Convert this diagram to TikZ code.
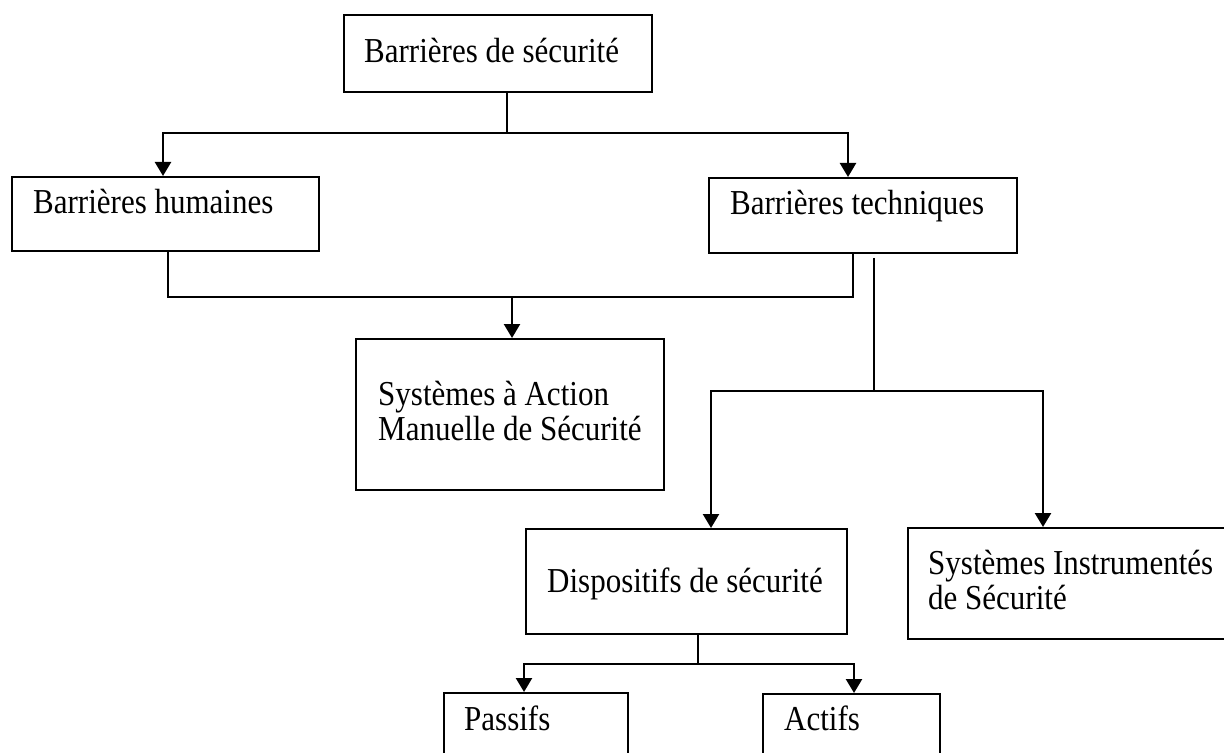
\documentclass[tikz,border=0pt]{standalone}
\usepackage{fontspec}
\setmainfont{Liberation Serif}[FakeStretch=0.886]
\usetikzlibrary{arrows.meta}

\begin{document}
\begin{tikzpicture}[x=0.5pt, y=-0.5pt, line width=1.2pt,
    >={Triangle[length=7pt,width=8pt]},
    box/.style={rectangle, draw, line width=1pt, inner sep=0pt},
    txt/.style={anchor=base west, inner sep=0pt, align=left,
      font=\fontsize{17.5}{17.5}\selectfont}]
  \useasboundingbox (0,0) rectangle (1224,753);
  % boxes
  \node[box, minimum width=154pt, minimum height=38.5pt] (secu) at (498,53.5) {};
  \node[box, minimum width=153.5pt, minimum height=37pt] (hum) at (165.5,214) {};
  \node[box, minimum width=154pt, minimum height=37.5pt] (tech) at (863,215.5) {};
  \node[box, minimum width=154pt, minimum height=75.5pt] (sams) at (510,414.5) {};
  \node[box, minimum width=160.5pt, minimum height=52.5pt] (disp) at (686.5,581.5) {};
  \node[box, minimum width=166pt, minimum height=55.5pt] (sis) at (1074,583.5) {};
  \node[box, minimum width=92pt, minimum height=38.5pt] (pas) at (536,731.5) {};
  \node[box, minimum width=88.5pt, minimum height=38pt] (act) at (851.5,732) {};
  % labels (base of the last line)
  \node[txt] (secut) at (363,63) {Barrières de sécurité};
  \node[txt] (humt) at (32,214) {Barrières humaines};
  \node[txt] (techt) at (729,215) {Barrières techniques};
  \node[txt] (samst) at (377,440) {Systèmes à Action\\Manuelle de Sécurité};
  \node[txt] (dispt) at (546,592) {Dispositifs de sécurité};
  \node[txt] (sist) at (927,609) {Systèmes Instrumentés\\de Sécurité};
  \node[txt] (past) at (463,730) {Passifs};
  \node[txt] (actt) at (783,730) {Actifs};
  % connectors
  \draw[->] (secu.south -| 507,0) -- (507,133) -| (hum.north -| 163,0);
  \draw[->] (507,133) -| (tech.north -| 848,0);
  \draw (hum.south -| 168,0) |- (853,297) -- (tech.south -| 853,0);
  \draw[->] (512,297) -- (sams.north -| 512,0);
  \draw ([yshift=-2pt]tech.south -| 874,0) -- (874,391);
  \draw[->] (874,391) -| (disp.north -| 711,0);
  \draw[->] (874,391) -| (sis.north -| 1043,0);
  \draw (disp.south -| 698,0) -- (698,664);
  \draw[->] (698,664) -| (pas.north -| 524,0);
  \draw[->] (698,664) -| (act.north -| 854,0);
\end{tikzpicture}
\end{document}
